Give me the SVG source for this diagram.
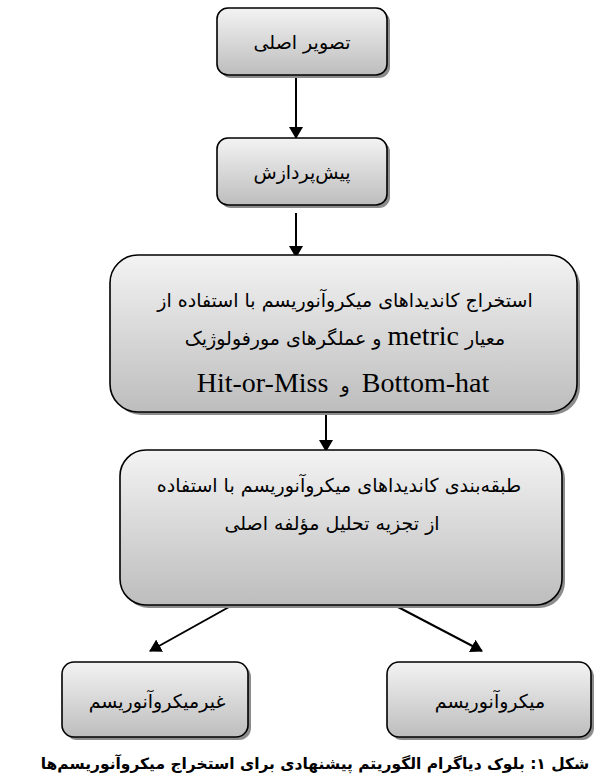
<svg xmlns="http://www.w3.org/2000/svg" width="603" height="781" viewBox="0 0 603 781">
<defs>
<linearGradient id="g" x1="0" y1="0" x2="0" y2="1">
<stop offset="0" stop-color="#f3f3f3"/>
<stop offset="1" stop-color="#bdbdbd"/>
</linearGradient>
<marker id="ah" viewBox="0 0 12 14" refX="11" refY="7" markerWidth="12" markerHeight="14" markerUnits="userSpaceOnUse" orient="auto">
<path d="M0,0 L12,7 L0,14 z" fill="#000"/>
</marker>
</defs>
<style>
.box{fill:url(#g);stroke:#000;stroke-width:1.6}
.sh{fill:#8c8c8c}
.t{font-family:"DejaVu Sans","Noto Sans",sans-serif;font-size:19px;fill:#000;text-anchor:middle;direction:rtl}
.lat{font-family:"Liberation Serif","DejaVu Sans",serif;font-size:28px}
.cap{font-family:"DejaVu Sans",sans-serif;font-size:15.5px;font-weight:bold;fill:#000;text-anchor:middle;direction:rtl}
.c{stroke:#000;stroke-width:2;fill:none;marker-end:url(#ah)}
</style>
<g id="connectors">
<line class="c" x1="296" y1="77" x2="296" y2="138"/>
<line class="c" x1="296" y1="213" x2="296" y2="257"/>
<line class="c" x1="326" y1="414" x2="326" y2="451"/>
<line class="c" x1="229" y1="607" x2="150" y2="651"/>
<line class="c" x1="398" y1="607" x2="482" y2="651"/>
</g>
<g id="n1">
<rect class="sh" x="220" y="11" width="170" height="67" rx="11"/>
<rect class="box" x="217" y="8" width="170" height="67" rx="11"/>
<text class="t" x="302" y="49" direction="rtl">تصویر اصلی</text>
</g>
<g id="n2">
<rect class="sh" x="220" y="141" width="170" height="67" rx="11"/>
<rect class="box" x="217" y="138" width="170" height="67" rx="11"/>
<text class="t" x="302" y="179" direction="rtl">پیش‌پردازش</text>
</g>
<g id="n3">
<rect class="sh" x="113" y="258" width="467" height="157" rx="28"/>
<rect class="box" x="110" y="255" width="467" height="157" rx="28"/>
<text class="t" x="345" y="307" direction="rtl">استخراج کاندیداهای میکروآنوریسم با استفاده از</text>
<text class="t" x="345" y="345" direction="rtl">معیار <tspan class="lat">metric</tspan> و عملگرهای مورفولوژیک</text>
<text class="t" x="343" y="392" direction="rtl" xml:space="preserve"><tspan class="lat">Bottom-hat</tspan>  و  <tspan class="lat">Hit-or-Miss</tspan></text>
</g>
<g id="n4">
<rect class="sh" x="123" y="453" width="442" height="155" rx="26"/>
<rect class="box" x="120" y="450" width="442" height="155" rx="26"/>
<text class="t" x="339" y="492" direction="rtl">طبقه‌بندی کاندیداهای میکروآنوریسم با استفاده</text>
<text class="t" x="332" y="530" direction="rtl">از تجزیه تحلیل مؤلفه اصلی</text>
</g>
<g id="n5">
<rect class="sh" x="65" y="665" width="186" height="75" rx="12"/>
<rect class="box" x="62" y="662" width="186" height="75" rx="12"/>
<text class="t" x="157" y="708" direction="rtl">غیرمیکروآنوریسم</text>
</g>
<g id="n6">
<rect class="sh" x="390" y="665" width="204" height="75" rx="12"/>
<rect class="box" x="387" y="662" width="204" height="75" rx="12"/>
<text class="t" x="490" y="708" direction="rtl">میکروآنوریسم</text>
</g>
<text class="cap" x="315" y="769" direction="rtl">شکل ۱: بلوک دیاگرام الگوریتم پیشنهادی برای استخراج میکروآنوریسم‌ها</text>
</svg>
